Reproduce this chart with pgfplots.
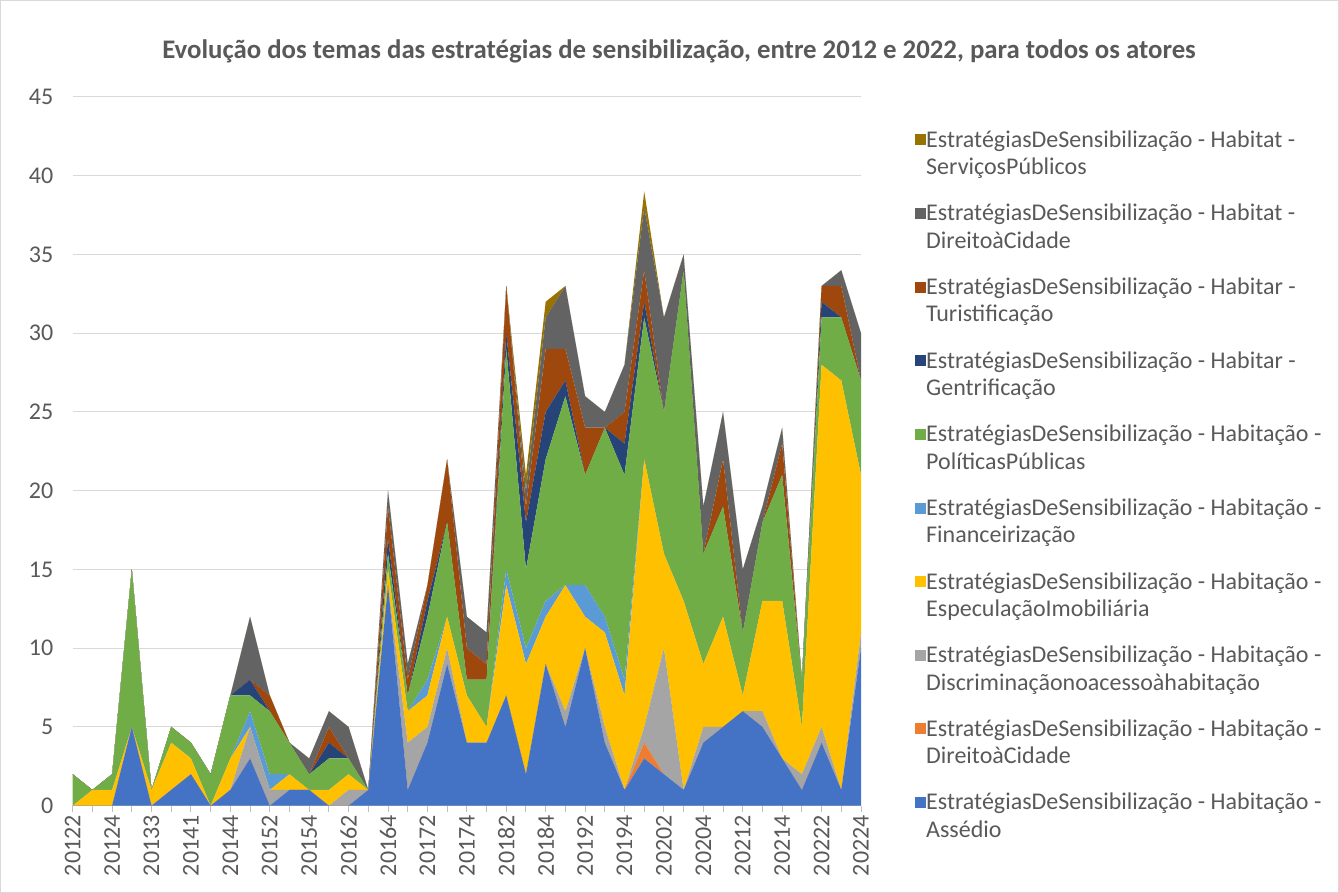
\documentclass[border=0pt]{standalone}
\usepackage{pgfplots}
\pgfplotsset{compat=1.18}
\usepackage{pgfplotstable}
\usepackage{fontspec}
\setmainfont{Carlito}
\definecolor{cA}{HTML}{4472C4}
\definecolor{cDC}{HTML}{ED7D31}
\definecolor{cD}{HTML}{A5A5A5}
\definecolor{cE}{HTML}{FFC000}
\definecolor{cF}{HTML}{5B9BD5}
\definecolor{cP}{HTML}{70AD47}
\definecolor{cG}{HTML}{264478}
\definecolor{cT}{HTML}{9E480E}
\definecolor{cH}{HTML}{636363}
\definecolor{cS}{HTML}{997300}
\definecolor{txt}{HTML}{595959}
\definecolor{gridc}{HTML}{D9D9D9}
\definecolor{axc}{HTML}{BFBFBF}

\pgfplotstableread{
x  A  DC D  E  F  P  G  T  H  S
0  0  0  0  0  0  2  0  0  0  0
1  0  0  0  1  0  0  0  0  0  0
2  0  0  0  1  0  1  0  0  0  0
3  5  0  0  0  0  10 0  0  0  0
4  0  0  0  1  0  0  0  0  0  0
5  1  0  0  3  0  1  0  0  0  0
6  2  0  0  1  0  1  0  0  0  0
7  0  0  0  0  0  2  0  0  0  0
8  1  0  0  2  0  4  0  0  0  0
9  3  0  2  0  1  1  1  0  4  0
10 0  0  1  0  1  4  0  1  0  0
11 1  0  0  1  0  2  0  0  0  0
12 1  0  0  0  0  1  0  0  1  0
13 0  0  0  1  0  2  1  1  1  0
14 0  0  1  1  0  1  0  0  2  0
15 1  0  0  0  0  0  0  0  0  0
16 14 0  0  1  0  1  1  2  1  0
17 1  0  3  2  0  1  0  1  1  0
18 4  0  1  2  1  4  1  1  0  0
19 9  0  1  2  0  6  0  4  0  0
20 4  0  0  3  0  1  0  2  2  0
21 4  0  0  1  0  3  0  1  2  0
22 7  0  0  7  1  14 1  3  0  0
23 2  0  0  7  1  5  3  1  1  1
24 9  0  0  3  1  9  3  4  2  1
25 5  0  1  8  0  12 1  2  4  0
26 10 0  0  2  2  7  0  3  2  0
27 4  0  1  6  1  12 0  0  1  0
28 1  0  0  6  1  13 2  2  3  0
29 3  1  1  17 0  9  1  2  4  1
30 2  0  8  6  0  9  0  0  6  0
31 1  0  0  12 0  21 0  0  1  0
32 4  0  1  4  0  7  0  0  3  0
33 5  0  0  7  0  7  0  3  3  0
34 6  0  0  1  0  4  0  0  4  0
35 5  0  1  7  0  5  0  0  1  0
36 3  0  0  10 0  8  0  2  1  0
37 1  0  1  3  0  3  0  0  0  0
38 4  0  1  23 0  3  1  1  0  0
39 1  0  0  26 0  4  0  2  1  0
40 10 0  1  10 0  6  0  0  3  0
}\data

\begin{document}
\begin{tikzpicture}
\path[use as bounding box] (0,0) rectangle (1339bp,893bp);
\draw[gridc, line width=1bp] (0.5bp,0.5bp) rectangle (1338.5bp,892.5bp);
\node[font=\fontsize{26.8bp}{32bp}\selectfont\bfseries, text=txt] at (679bp,842bp)
  {Evolução dos temas das estratégias de sensibilização, entre 2012 e 2022, para todos os atores};
\begin{axis}[
  at={(72.7bp,87.3bp)}, anchor=south west,
  scale only axis, width=788.3bp, height=708.7bp,
  xmin=0, xmax=40, ymin=0, ymax=45,
  stack plots=y,
  axis x line*=bottom, axis y line*=left,
  x axis line style={axc, line width=1bp, -},
  y axis line style={draw=none},
  ymajorgrids, major grid style={gridc, line width=1bp},
  ytick={0,5,...,45},
  ytick style={draw=none},
  xtick={0,1,...,40},
  xtick style={axc, line width=1bp},
  tick align=outside, major tick length=6bp,
  xticklabels={20122,,20124,,20133,,20141,,20144,,20152,,20154,,20162,,20164,,20172,,20174,,20182,,20184,,20192,,20194,,20202,,20204,,20212,,20214,,20222,,20224},
  tick label style={font=\fontsize{24bp}{28bp}\selectfont, text=txt},
  xticklabel style={rotate=90, anchor=east},
  yticklabel style={xshift=-10bp},
  /pgf/number format/assume math mode=true,
  legend image code/.code={\fill[#1] (0bp,8bp) rectangle (11bp,19bp);},
  reverse legend,
  legend cell align=left,
  legend style={at={(1.0647,0.956)}, anchor=north west, draw=none, fill=none,
    font=\fontsize{24bp}{27.5bp}\selectfont, text=txt, row sep=28bp,
    nodes={align=left, inner sep=0bp}},
]
\addplot[fill=cA, draw=none] table[x=x,y=A]{\data} \closedcycle;
\addlegendentry{EstratégiasDeSensibilização - Habitação -\\Assédio}
\addplot[fill=cDC, draw=none] table[x=x,y=DC]{\data} \closedcycle;
\addlegendentry{EstratégiasDeSensibilização - Habitação -\\DireitoàCidade}
\addplot[fill=cD, draw=none] table[x=x,y=D]{\data} \closedcycle;
\addlegendentry{EstratégiasDeSensibilização - Habitação -\\Discriminaçãonoacessoàhabitação}
\addplot[fill=cE, draw=none] table[x=x,y=E]{\data} \closedcycle;
\addlegendentry{EstratégiasDeSensibilização - Habitação -\\EspeculaçãoImobiliária}
\addplot[fill=cF, draw=none] table[x=x,y=F]{\data} \closedcycle;
\addlegendentry{EstratégiasDeSensibilização - Habitação -\\Financeirização}
\addplot[fill=cP, draw=none] table[x=x,y=P]{\data} \closedcycle;
\addlegendentry{EstratégiasDeSensibilização - Habitação -\\PolíticasPúblicas}
\addplot[fill=cG, draw=none] table[x=x,y=G]{\data} \closedcycle;
\addlegendentry{EstratégiasDeSensibilização - Habitar -\\Gentrificação}
\addplot[fill=cT, draw=none] table[x=x,y=T]{\data} \closedcycle;
\addlegendentry{EstratégiasDeSensibilização - Habitar -\\Turistificação}
\addplot[fill=cH, draw=none] table[x=x,y=H]{\data} \closedcycle;
\addlegendentry{EstratégiasDeSensibilização - Habitat -\\DireitoàCidade}
\addplot[fill=cS, draw=none] table[x=x,y=S]{\data} \closedcycle;
\addlegendentry{EstratégiasDeSensibilização - Habitat -\\ServiçosPúblicos}
\end{axis}
\end{tikzpicture}
\end{document}
